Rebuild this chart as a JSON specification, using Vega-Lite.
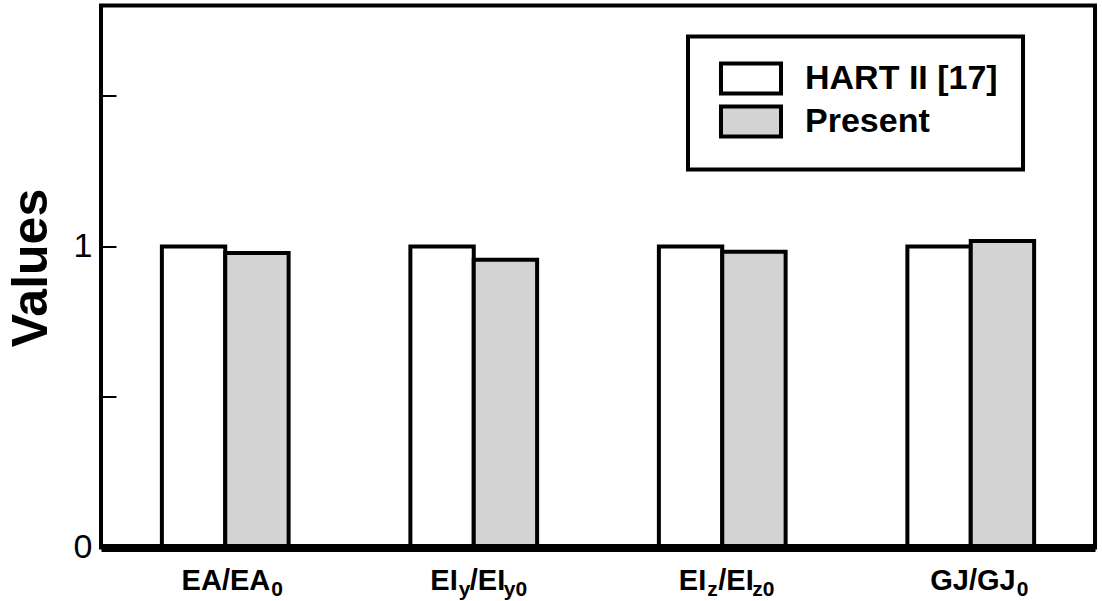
{
  "$schema": "https://vega.github.io/schema/vega-lite/v6.json",
  "autosize": "none",
  "width": 994,
  "height": 542,
  "padding": {"left": 101, "top": 5.5, "right": 7, "bottom": 53.5},
  "background": "white",
  "config": {
    "font": "Liberation Sans",
    "view": {"stroke": "black", "strokeWidth": 4},
    "axis": {"grid": false},
    "legend": {"strokeColor": "black", "fillColor": "white", "strokeWidth": 4}
  },
  "datasets": {
    "bars": [
      {"category": "EA/EA0", "series": "HART II [17]", "value": 1.0},
      {"category": "EA/EA0", "series": "Present", "value": 0.978},
      {"category": "EIy/EIy0", "series": "HART II [17]", "value": 1.0},
      {"category": "EIy/EIy0", "series": "Present", "value": 0.956},
      {"category": "EIz/EIz0", "series": "HART II [17]", "value": 1.0},
      {"category": "EIz/EIz0", "series": "Present", "value": 0.982},
      {"category": "GJ/GJ0", "series": "HART II [17]", "value": 1.0},
      {"category": "GJ/GJ0", "series": "Present", "value": 1.018}
    ],
    "labels": [
      {"category": "EA/EA0", "grp": "A", "m1": "EA/EA", "s1": "0", "m2": "", "s2": ""},
      {"category": "EIy/EIy0", "grp": "B", "m1": "EI", "s1": "y", "m2": "/EI", "s2": "y0"},
      {"category": "EIz/EIz0", "grp": "B", "m1": "EI", "s1": "z", "m2": "/EI", "s2": "z0"},
      {"category": "GJ/GJ0", "grp": "A", "m1": "GJ/GJ", "s1": "0", "m2": "", "s2": ""}
    ]
  },
  "layer": [
    {
      "data": {"name": "bars"},
      "mark": {"type": "bar", "stroke": "black", "strokeWidth": 4, "strokeJoin": "miter"},
      "encoding": {
        "x": {
          "field": "category", "type": "nominal",
          "sort": ["EA/EA0", "EIy/EIy0", "EIz/EIz0", "GJ/GJ0"],
          "scale": {"paddingInner": 0.49, "paddingOuter": 0.245},
          "axis": {"labels": false, "ticks": false, "title": null, "domain": true, "domainColor": "black", "domainWidth": 8, "zindex": 1}
        },
        "xOffset": {"field": "series", "type": "nominal", "sort": ["HART II [17]", "Present"], "scale": {"paddingInner": 0, "paddingOuter": 0}},
        "y": {
          "field": "value", "type": "quantitative",
          "scale": {"domain": [0, 1.8], "nice": false, "zero": true},
          "axis": {
            "title": "Values",
            "titleFont": "Liberation Sans", "titleFontWeight": "bold", "titleFontSize": 50, "titleColor": "black",
            "titleAngle": -90, "titleX": -55, "titleY": 262, "titleAlign": "center", "titleBaseline": "alphabetic",
            "values": [0, 0.5, 1, 1.5],
            "labelExpr": "datum.value == 0 || datum.value == 1 ? format(datum.value, 'd') : ''",
            "labelFont": "Liberation Sans", "labelFontSize": 34, "labelColor": "black",
            "labelPadding": 24,
            "tickSize": -15, "tickColor": "black", "tickWidth": 2,
            "domain": false
          }
        },
        "color": {
          "field": "series", "type": "nominal",
          "scale": {"domain": ["HART II [17]", "Present"], "range": ["#ffffff", "#d3d3d3"]},
          "legend": {
            "orient": "none", "legendX": 587, "legendY": 31, "title": null,
            "padding": 25,
            "symbolType": "M-2,-1H2V1H-2Z", "symbolSize": 900,
            "symbolStrokeColor": "black", "symbolStrokeWidth": 4, "symbolOffset": 21,
            "labelOffset": 37, "labelFont": "Liberation Sans", "labelFontWeight": "bold", "labelFontSize": 34,
            "labelColor": "black", "labelLimit": 400, "rowPadding": -3
          }
        }
      }
    },
    {
      "data": {"name": "labels"},
      "transform": [{"filter": "datum.grp == 'A'"}],
      "mark": {"type": "text", "align": "right", "baseline": "alphabetic", "dx": 45, "dy": 42.5, "font": "Liberation Sans", "fontWeight": "bold", "fontSize": 29, "color": "black"},
      "encoding": {
        "x": {"field": "category", "type": "nominal", "sort": ["EA/EA0", "EIy/EIy0", "EIz/EIz0", "GJ/GJ0"]},
        "y": {"datum": 0, "type": "quantitative"},
        "text": {"field": "m1"}
      }
    },
    {
      "data": {"name": "labels"},
      "transform": [{"filter": "datum.grp == 'A'"}],
      "mark": {"type": "text", "align": "left", "baseline": "alphabetic", "dx": 46, "dy": 48, "font": "Liberation Sans", "fontWeight": "bold", "fontSize": 21, "color": "black"},
      "encoding": {
        "x": {"field": "category", "type": "nominal", "sort": ["EA/EA0", "EIy/EIy0", "EIz/EIz0", "GJ/GJ0"]},
        "y": {"datum": 0, "type": "quantitative"},
        "text": {"field": "s1"}
      }
    },
    {
      "data": {"name": "labels"},
      "transform": [{"filter": "datum.grp == 'B'"}],
      "mark": {"type": "text", "align": "right", "baseline": "alphabetic", "dx": -16, "dy": 42.5, "font": "Liberation Sans", "fontWeight": "bold", "fontSize": 29, "color": "black"},
      "encoding": {
        "x": {"field": "category", "type": "nominal", "sort": ["EA/EA0", "EIy/EIy0", "EIz/EIz0", "GJ/GJ0"]},
        "y": {"datum": 0, "type": "quantitative"},
        "text": {"field": "m1"}
      }
    },
    {
      "data": {"name": "labels"},
      "transform": [{"filter": "datum.grp == 'B'"}],
      "mark": {"type": "text", "align": "left", "baseline": "alphabetic", "dx": -15, "dy": 48, "font": "Liberation Sans", "fontWeight": "bold", "fontSize": 21, "color": "black"},
      "encoding": {
        "x": {"field": "category", "type": "nominal", "sort": ["EA/EA0", "EIy/EIy0", "EIz/EIz0", "GJ/GJ0"]},
        "y": {"datum": 0, "type": "quantitative"},
        "text": {"field": "s1"}
      }
    },
    {
      "data": {"name": "labels"},
      "transform": [{"filter": "datum.grp == 'B'"}],
      "mark": {"type": "text", "align": "left", "baseline": "alphabetic", "dx": -4, "dy": 42.5, "font": "Liberation Sans", "fontWeight": "bold", "fontSize": 29, "color": "black"},
      "encoding": {
        "x": {"field": "category", "type": "nominal", "sort": ["EA/EA0", "EIy/EIy0", "EIz/EIz0", "GJ/GJ0"]},
        "y": {"datum": 0, "type": "quantitative"},
        "text": {"field": "m2"}
      }
    },
    {
      "data": {"name": "labels"},
      "transform": [{"filter": "datum.grp == 'B'"}],
      "mark": {"type": "text", "align": "left", "baseline": "alphabetic", "dx": 30, "dy": 48, "font": "Liberation Sans", "fontWeight": "bold", "fontSize": 21, "color": "black"},
      "encoding": {
        "x": {"field": "category", "type": "nominal", "sort": ["EA/EA0", "EIy/EIy0", "EIz/EIz0", "GJ/GJ0"]},
        "y": {"datum": 0, "type": "quantitative"},
        "text": {"field": "s2"}
      }
    }
  ]
}
